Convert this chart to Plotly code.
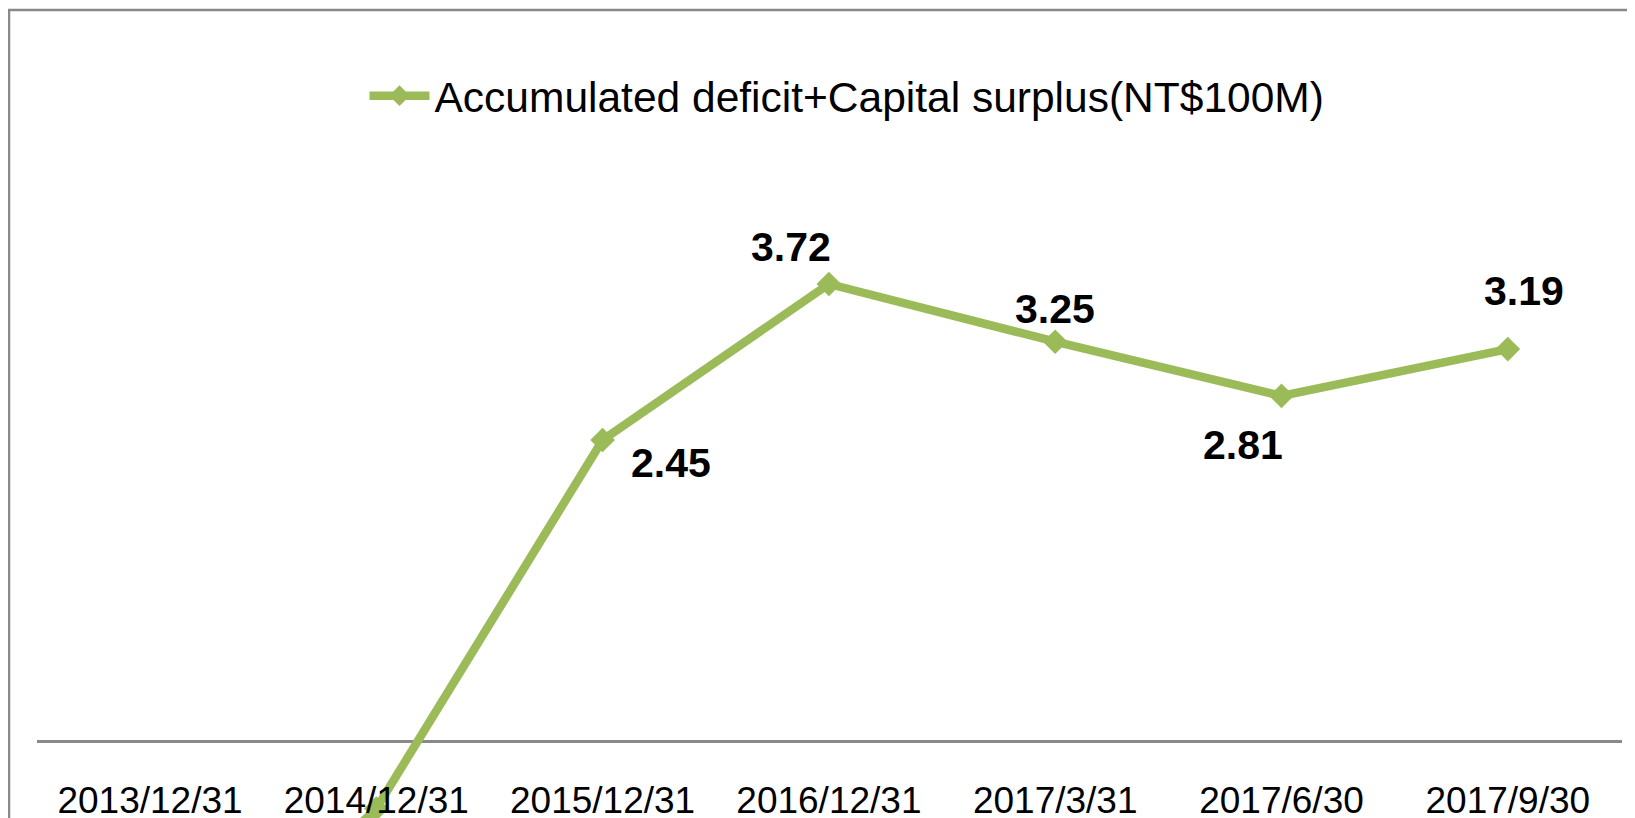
import plotly.graph_objects as go

categories = ["2013/12/31", "2014/12/31", "2015/12/31", "2016/12/31",
              "2017/3/31", "2017/6/30", "2017/9/30"]
values = [-2.30, -0.55, 2.45, 3.72, 3.25, 2.81, 3.19]
label_text = ["-2.30", "-0.55", "2.45", "3.72", "3.25", "2.81", "3.19"]
series_name = "Accumulated deficit+Capital surplus(NT$100M)"

# label offsets (px) relative to each point
label_dx = [0, 0, 68, -38, 0, -39, 16]
label_dy = [-50, -50, -23, 37, 33, -49, 58]

GREEN = "#9BBB59"
GRAY = "#898989"

# page is offset by the 8px body margin, so the figure is 8px smaller
W, H = 1627, 810
ML, MR = 29, 13
zero_px = 733          # figure y of the category axis (value 0)
top_val_px = 276       # figure y of the 3.72 point

fig = go.Figure()
fig.add_trace(go.Scatter(
    x=categories, y=values, mode="lines+markers", name=series_name,
    line=dict(color=GREEN, width=8.5),
    marker=dict(symbol="diamond", size=19, color=GREEN),
    showlegend=True,
))

# labels of points below zero fall outside the visible canvas in the reference
for c, v, t, dx, dy in zip(categories, values, label_text, label_dx, label_dy):
    if v < 0:
        continue
    fig.add_annotation(x=c, y=v, text="<b>" + t + "</b>", showarrow=False, xshift=dx, yshift=dy,
                       font=dict(family="Liberation Sans", size=41, color="black"),
                       xref="x", yref="y")

px_per_unit = (zero_px - top_val_px) / 3.72
y_hi = zero_px / px_per_unit
y_lo = -(H - zero_px) / px_per_unit

cat_px = 226.3
plot_w = W - ML - MR
x_lo = -(142 - ML) / cat_px
x_hi = x_lo + plot_w / cat_px

fig.update_layout(
    width=W, height=H,
    margin=dict(l=ML, r=MR, t=0, b=0, autoexpand=False),
    paper_bgcolor="white", plot_bgcolor="white",
    font=dict(family="Liberation Sans", color="black"),
    showlegend=True,
    legend=dict(orientation="h", x=(839 - ML) / plot_w, xanchor="center",
                y=1 - 88 / H, yanchor="middle",
                font=dict(size=42.5, family="Liberation Sans"), itemwidth=60,
                bgcolor="rgba(0,0,0,0)"),
    xaxis=dict(type="category", range=[x_lo, x_hi], anchor="free",
               position=(H - zero_px) / H, showline=False,
               showgrid=False, zeroline=False, ticks="outside", ticklen=27,
               tickcolor="rgba(0,0,0,0)", tickfont=dict(size=37, family="Liberation Sans")),
    yaxis=dict(range=[y_lo, y_hi], domain=[0, 1], showgrid=False, showticklabels=False,
               showline=False, ticks="", zeroline=True, zerolinecolor=GRAY, zerolinewidth=2.5),
    shapes=[dict(type="rect", xref="paper", yref="paper",
                 x0=(1 - ML) / plot_w, x1=1.2, y0=-0.5, y1=1 - 2 / H,
                 line=dict(color=GRAY, width=2.5), fillcolor="rgba(0,0,0,0)", layer="below")],
)

fig.write_html("out.html")
